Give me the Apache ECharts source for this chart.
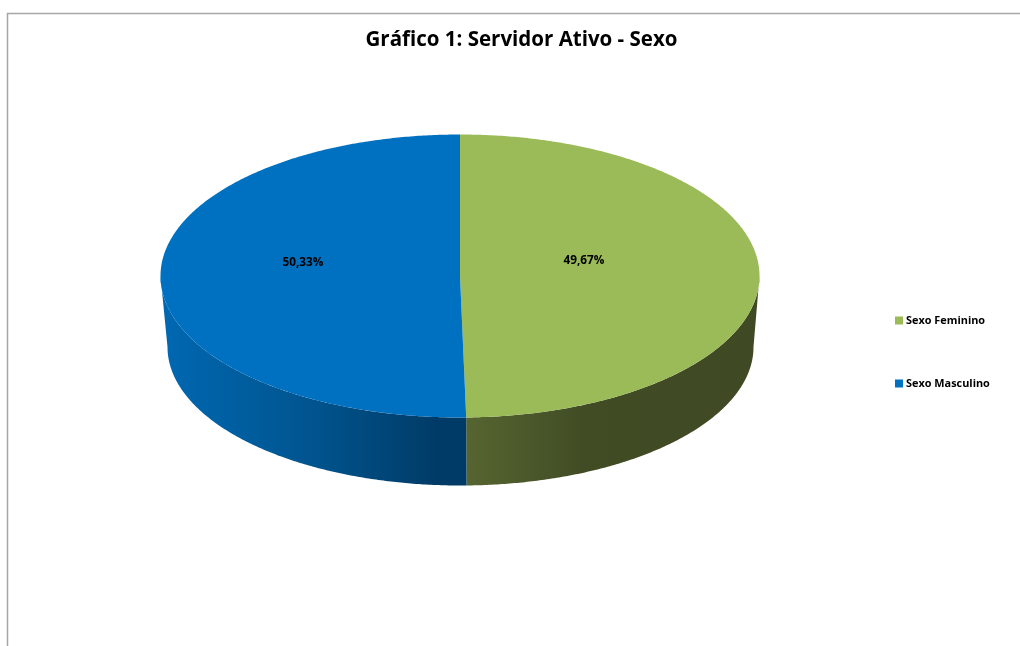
<!DOCTYPE html>
<html>
<head>
<meta charset="utf-8">
<style>html,body{margin:0;padding:0;background:#fff}#c{width:1020px;height:646px}</style>
<script src="https://cdn.jsdelivr.net/npm/echarts@6/dist/echarts.min.js"></script>
</head>
<body>
<div id="c"></div>
<script>
const categories = ['Sexo Feminino', 'Sexo Masculino'];
const shares = [49.67, 50.33];
const labels = ['49,67%', '50,33%'];
const chartTitle = 'Gráfico 1: Servidor Ativo - Sexo';

const FONT = '"Open Sans", "Noto Sans", sans-serif';
const colors = ['#9BBB59', '#0070C0'];
const wallStops = [
  [[0, '#566530'], [0.4, '#414C25'], [1, '#3F4A24']],
  [[0, '#0068B2'], [0.5, '#00548E'], [0.92, '#003A66'], [1, '#003A66']]
];
const labelPos = [[584, 261], [303, 263]];
const TOP = {cx: 460, cy: 276, rx: 299.5, ry: 141.5};
const BOT = {cx: 460.5, cy: 347, rx: 293, ry: 138.5};
const total = shares.reduce((a, b) => a + b, 0);

function pt(e, deg) {
  const t = deg * Math.PI / 180;
  return [e.cx + e.rx * Math.sin(t), e.cy - e.ry * Math.cos(t)];
}
function arc(e, a, b) {
  const out = [], n = Math.max(2, Math.ceil(Math.abs(b - a) * 2));
  for (let i = 0; i <= n; i++) out.push(pt(e, a + (b - a) * i / n));
  return out;
}

function renderSlice(idx) {
  return function (params, api) {
    let start = 0;
    for (let i = 0; i < idx; i++) start += shares[i];
    const a = start / total * 360;
    const b = a + api.value(0) / total * 360;
    const children = [];
    const wa = Math.max(a, 90), wb = Math.min(b, 270);
    if (wb > wa) {
      children.push({
        type: 'polygon',
        shape: {points: arc(TOP, wa, wb).concat(arc(BOT, wb, wa))},
        style: {fill: new echarts.graphic.LinearGradient(
          0, 0, 1, 0,
          wallStops[idx].map(s => ({offset: s[0], color: s[1]})))}
      });
    }
    children.push({
      type: 'polygon',
      shape: {points: [[TOP.cx, TOP.cy]].concat(arc(TOP, a, b))},
      style: {fill: colors[idx]}
    });
    children.push({
      type: 'text',
      style: {
        text: labels[idx], x: labelPos[idx][0], y: labelPos[idx][1],
        fill: '#000', font: 'bold 11.8px ' + FONT,
        align: 'center', verticalAlign: 'middle'
      }
    });
    return {type: 'group', children};
  };
}

const chart = echarts.init(document.getElementById('c'), null, {renderer: 'canvas'});
chart.setOption({
  animation: false,
  backgroundColor: '#fff',
  title: {
    text: chartTitle, left: 516.5, top: 25, textAlign: 'center',
    textStyle: {fontFamily: FONT, fontWeight: 'bold', fontSize: 20.5, color: '#000'}
  },
  legend: {
    orient: 'vertical', left: 890, top: 310, itemWidth: 8, itemHeight: 8, itemGap: 52,
    icon: 'rect', data: categories, selectedMode: false,
    textStyle: {fontFamily: FONT, fontWeight: 'bold', fontSize: 10.9, color: '#000', padding: [0, 0, 0, -2]}
  },
  graphic: [
    {type: 'line', shape: {x1: 7, y1: 13.5, x2: 1020, y2: 13.5}, style: {stroke: '#a6a6a6', lineWidth: 1.5}},
    {type: 'line', shape: {x1: 7.5, y1: 13, x2: 7.5, y2: 646}, style: {stroke: '#a6a6a6', lineWidth: 1.5}}
  ],
  series: categories.map((name, i) => ({
    type: 'custom', name, coordinateSystem: 'none', silent: true,
    itemStyle: {color: colors[i]},
    renderItem: renderSlice(i),
    data: [[shares[i]]]
  }))
});
</script>
</body>
</html>
